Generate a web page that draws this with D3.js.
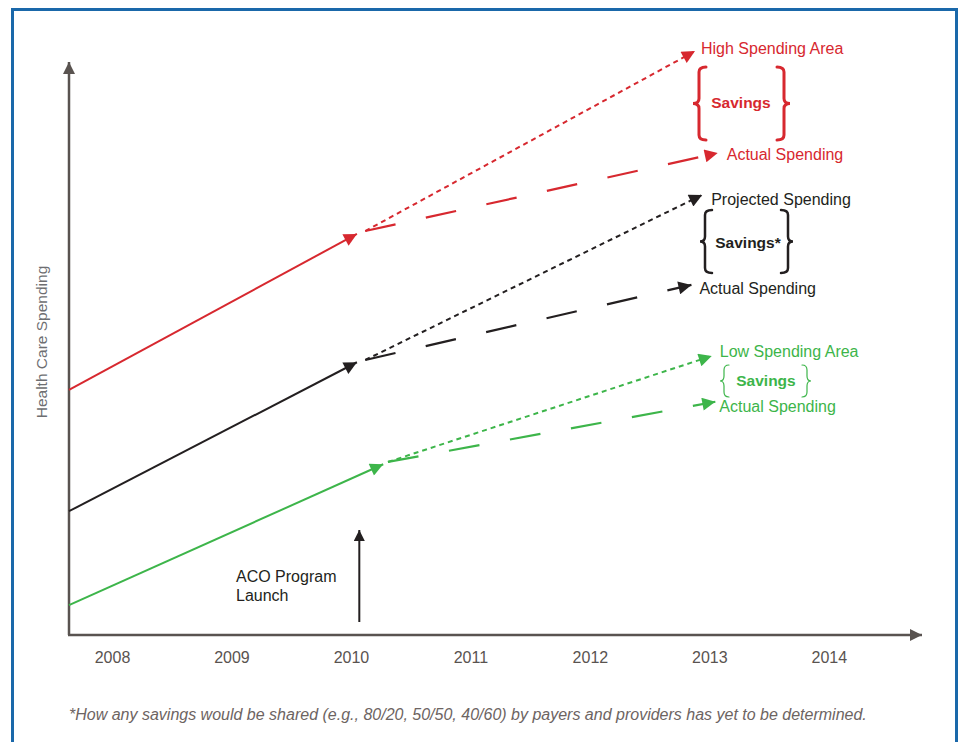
<!DOCTYPE html>
<html>
<head>
<meta charset="utf-8">
<script src="https://cdn.jsdelivr.net/npm/d3@7"></script>
<style>
  body { margin: 0; background: #fff; }
  svg text { font-family: "Liberation Sans", Arial, Helvetica, sans-serif; }
</style>
</head>
<body>
<div id="chartDiv"></div>
<script>
// data (y values on a 0-100 index, 100 = top of the axis)
const years = [2008, 2009, 2010, 2011, 2012, 2013, 2014];
const seriesKeys = ["high", "avg", "low"];
const seriesColors = ["#d7282f", "#231f20", "#3db54a"];
const startYear = [2007.64, 2007.64, 2007.64];
const startValue = [42.8, 21.6, 5.2];
const launchYear = [2010.05, 2010.05, 2010.27];
const launchValue = [70.0, 47.6, 29.8];
const forkYear = [2010.12, 2010.12, 2010.31];
const forkValue = [70.5, 48.0, 30.2];
const projectedYear = [2012.88, 2012.94, 2013.02];
const projectedValue = [101.9, 76.8, 48.7];
const actualYear = [2013.07, 2012.85, 2013.05];
const actualValue = [84.1, 61.1, 40.7];
const projectedLabels = ["High Spending Area", "Projected Spending", "Low Spending Area"];
const actualLabels = ["Actual Spending", "Actual Spending", "Actual Spending"];
const savingsLabels = ["Savings", "Savings*", "Savings"];
const launchYearValue = 2010.07;
const footnote = "*How any savings would be shared (e.g., 80/20, 50/50, 40/60) by payers and providers has yet to be determined.";

const W = 962, H = 742;
const axisColor = "#595350";
const fs = "16px";

const svgObj = d3.select("#chartDiv").append("svg")
  .attr("width", W).attr("height", H);

// blue frame
svgObj.append("rect")
  .attr("x", 12.5).attr("y", 9.5)
  .attr("width", 944).attr("height", 800)
  .attr("fill", "none").attr("stroke", "#1a68aa").attr("stroke-width", 3);

const x = d3.scaleLinear().domain([2007.64, 2014.78]).range([69, 922]);
const y = d3.scaleLinear().domain([0, 100]).range([635, 62]);

// arrow markers
const defs = svgObj.append("defs");
function addMarker(id, color, len, wid) {
  defs.append("marker")
    .attr("id", id)
    .attr("viewBox", "0 0 10 10")
    .attr("refX", 10).attr("refY", 5)
    .attr("markerUnits", "userSpaceOnUse")
    .attr("markerWidth", len).attr("markerHeight", wid)
    .attr("orient", "auto")
    .append("path")
    .attr("d", "M0,0L10,5L0,10Z")
    .attr("fill", color);
}
seriesKeys.forEach((k, i) => addMarker("arrow-" + k, seriesColors[i], 19, 13));
addMarker("arrow-axis", axisColor, 18, 12);
addMarker("arrow-launch", "#231f20", 15, 11);

// axes
svgObj.append("line")
  .attr("x1", x(2007.64)).attr("y1", y(0))
  .attr("x2", x(2007.64)).attr("y2", y(100))
  .attr("stroke", axisColor).attr("stroke-width", 2.5)
  .attr("marker-end", "url(#arrow-axis)");
svgObj.append("line")
  .attr("x1", x(2007.64) - 1).attr("y1", y(0))
  .attr("x2", x(2014.78)).attr("y2", y(0))
  .attr("stroke", axisColor).attr("stroke-width", 2.5)
  .attr("marker-end", "url(#arrow-axis)");

const xAxis = svgObj.append("g")
  .attr("transform", `translate(0,${y(0)})`)
  .call(d3.axisBottom(x).tickValues(years).tickFormat(d3.format("d")).tickSize(0).tickPadding(17));
xAxis.select(".domain").remove();
xAxis.selectAll("text")
  .attr("fill", axisColor)
  .style("font-size", fs)
  .style("font-family", "'Liberation Sans', Arial, sans-serif");

svgObj.append("text")
  .attr("transform", "translate(47,342) rotate(-90)")
  .attr("text-anchor", "middle")
  .attr("fill", "#6d6e71")
  .style("font-size", "15.5px")
  .text("Health Care Spending");

// lines
const lineFn = d3.line().x(d => x(d[0])).y(d => y(d[1]));
seriesKeys.forEach((k, i) => {
  const g = svgObj.append("g").attr("class", "series-" + k);
  const col = seriesColors[i];
  g.append("path")
    .attr("d", lineFn([[startYear[i], startValue[i]], [launchYear[i], launchValue[i]]]))
    .attr("stroke", col).attr("stroke-width", 2).attr("fill", "none")
    .attr("marker-end", `url(#arrow-${k})`);
  g.append("path")
    .attr("d", lineFn([[forkYear[i], forkValue[i]], [projectedYear[i], projectedValue[i]]]))
    .attr("stroke", col).attr("stroke-width", 2).attr("fill", "none")
    .attr("stroke-dasharray", "5,4")
    .attr("marker-end", `url(#arrow-${k})`);
  g.append("path")
    .attr("d", lineFn([[forkYear[i], forkValue[i]], [actualYear[i], actualValue[i]]]))
    .attr("stroke", col).attr("stroke-width", 2.2).attr("fill", "none")
    .attr("stroke-dasharray", "31,31")
    .attr("marker-end", `url(#arrow-${k})`);
});

// labels and braces
const labelStyle = [
  { px: 6, py: 3, ax: 9, ay: 7, brace: [699, 784, 67, 140, 6, 7, 3], sx: 741, sy: 108 },
  { px: 9, py: 10, ax: 8, ay: 9, brace: [705, 788, 210, 273, 5, 7, 2.5], sx: 748, sy: 248 },
  { px: 8, py: 1, ax: 4, ay: 10, brace: [724, 807, 365, 397, 4, 5, 1.2], sx: 766, sy: 386 }
];

function bracePath(bx, y0, y1, dir, tip, hook) {
  // dir = 1 for "{", -1 for "}"
  const ym = (y0 + y1) / 2, r = 5;
  return `M${bx + dir * hook},${y0}Q${bx},${y0} ${bx},${y0 + r}` +
    `L${bx},${ym - r}Q${bx},${ym} ${bx - dir * tip},${ym}` +
    `Q${bx},${ym} ${bx},${ym + r}L${bx},${y1 - r}Q${bx},${y1} ${bx + dir * hook},${y1}`;
}

seriesKeys.forEach((k, i) => {
  const col = seriesColors[i];
  const s = labelStyle[i];
  svgObj.append("text")
    .attr("x", x(projectedYear[i]) + s.px).attr("y", y(projectedValue[i]) + s.py)
    .attr("fill", col).style("font-size", fs)
    .text(projectedLabels[i]);
  svgObj.append("text")
    .attr("x", x(actualYear[i]) + s.ax).attr("y", y(actualValue[i]) + s.ay)
    .attr("fill", col).style("font-size", fs)
    .text(actualLabels[i]);
  const [lx, rx, y0, y1, tip, hook, sw] = s.brace;
  [[lx, 1], [rx, -1]].forEach(([bx, dir]) => {
    svgObj.append("path")
      .attr("d", bracePath(bx, y0, y1, dir, tip, hook))
      .attr("fill", "none").attr("stroke", col)
      .attr("stroke-width", sw).attr("stroke-linecap", "round");
  });
  svgObj.append("text")
    .attr("x", s.sx).attr("y", s.sy)
    .attr("text-anchor", "middle")
    .attr("fill", col).style("font-size", "15.5px").style("font-weight", "bold")
    .text(savingsLabels[i]);
});

// ACO launch marker
svgObj.append("line")
  .attr("x1", x(launchYearValue)).attr("y1", 622)
  .attr("x2", x(launchYearValue)).attr("y2", 530)
  .attr("stroke", "#231f20").attr("stroke-width", 2)
  .attr("marker-end", "url(#arrow-launch)");
const launchText = svgObj.append("text")
  .attr("x", 236).attr("y", 582)
  .attr("fill", "#231f20").style("font-size", fs);
launchText.append("tspan").attr("x", 236).text("ACO Program");
launchText.append("tspan").attr("x", 236).attr("dy", 19).text("Launch");

// footnote
svgObj.append("text")
  .attr("x", 69).attr("y", 720)
  .attr("fill", "#6d6462")
  .style("font-size", "16px").style("font-style", "italic")
  .text(footnote);
</script>
</body>
</html>
